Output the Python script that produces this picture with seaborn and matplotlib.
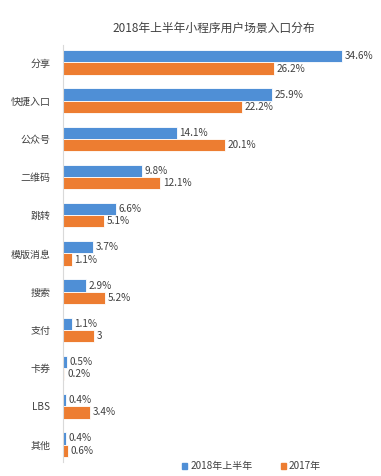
import pandas as pd
import seaborn as sns
import matplotlib.pyplot as plt

# Данные
categories = ['分享', '快捷入口', '公众号', '二维码', '跳转', '模版消息', '搜索', '支付', '卡券', 'LBS', '其他']
series_names = ['2018年上半年', '2017年']
values_2018h1 = [34.6, 25.9, 14.1, 9.8, 6.6, 3.7, 2.9, 1.1, 0.5, 0.4, 0.4]
values_2017 = [26.2, 22.2, 20.1, 12.1, 5.1, 1.1, 5.2, 3.8, 0.2, 3.4, 0.6]
labels_2018h1 = ['34.6%', '25.9%', '14.1%', '9.8%', '6.6%', '3.7%', '2.9%', '1.1%', '0.5%', '0.4%', '0.4%']
labels_2017 = ['26.2%', '22.2%', '20.1%', '12.1%', '5.1%', '1.1%', '5.2%', '3', '0.2%', '3.4%', '0.6%']

df = pd.DataFrame({
    'cat': categories * 2,
    'series': [series_names[0]] * len(categories) + [series_names[1]] * len(categories),
    'value': values_2018h1 + values_2017,
})

sns.set_theme(style='white')
plt.rcParams['font.family'] = ['Noto Sans CJK SC', 'DejaVu Sans']

fig = plt.figure(figsize=(3.81, 4.76), dpi=100)
ax = fig.add_axes([0.165, 0.03, 0.762, 0.875])

palette = {series_names[0]: '#4F8FD6', series_names[1]: '#ED7D31'}
sns.barplot(data=df, y='cat', x='value', hue='series', orient='h', palette=palette,
            saturation=1, width=0.64, edgecolor='white', linewidth=0.6, ax=ax, legend=False)

text_color = '#404040'
for cont, labs in zip(ax.containers, [labels_2018h1, labels_2017]):
    ax.bar_label(cont, labels=labs, padding=2, fontsize=7.2, color=text_color)

ax.set_xlim(0, 36)
ax.set_ylim(10.45, -0.45)
ax.set_xlabel('')
ax.set_ylabel('')
ax.set_xticks([])
ax.tick_params(axis='y', length=0, pad=9, labelsize=7.2, labelcolor=text_color)
for s in ['top', 'right', 'bottom']:
    ax.spines[s].set_visible(False)
ax.spines['left'].set_color('#D9D9D9')
ax.spines['left'].set_linewidth(0.8)

fig.text(0.56, 0.94, '2018年上半年小程序用户场景入口分布', ha='center', va='center',
         fontsize=8.5, color=text_color)

handles = [plt.Rectangle((0, 0), 1, 1, color=palette[n]) for n in series_names]
fig.legend(handles, series_names, loc='center', bbox_to_anchor=(0.66, 0.02), ncol=2,
           frameon=False, fontsize=7.2, handlelength=0.5, handleheight=0.5,
           handletextpad=0.3, columnspacing=2.8, labelcolor=text_color)

fig.savefig('out.png', dpi=100)
